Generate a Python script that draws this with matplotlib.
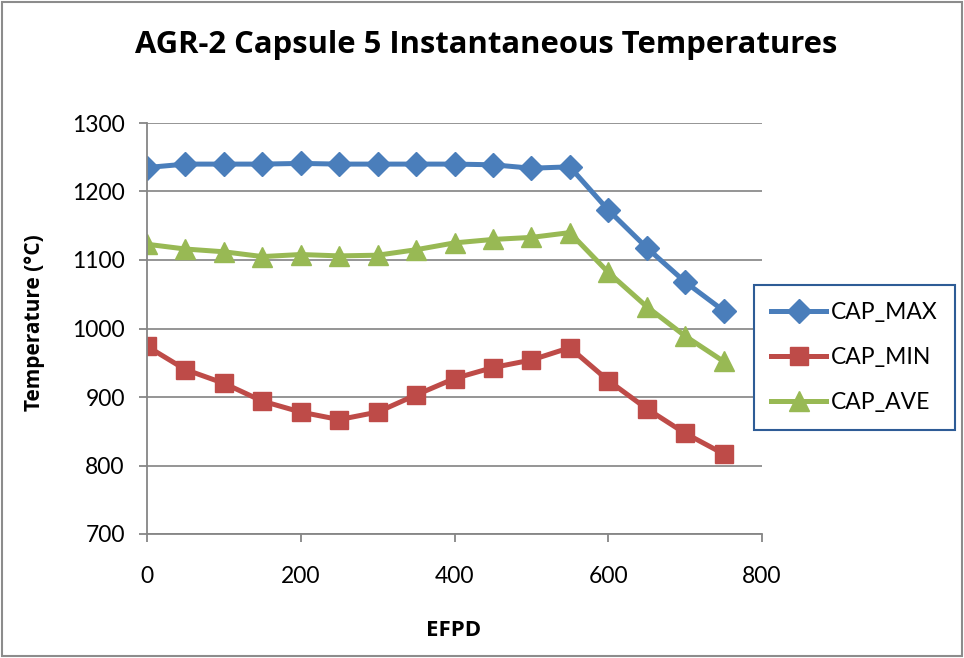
import matplotlib.pyplot as plt
from matplotlib.patches import Rectangle

plt.rcParams['font.family'] = ['Lato', 'DejaVu Sans']

# EFPD points and capsule temperatures (degC)
efpd = [0, 50, 100, 150, 200, 250, 300, 350, 400, 450, 500, 550, 600, 650, 700, 750]
cap_max = [1235, 1240, 1240, 1240, 1241, 1240, 1240, 1240, 1240, 1239, 1234, 1236,
           1173, 1118, 1068, 1026]
cap_min = [974, 940, 920, 894, 878, 867, 878, 903, 927, 943, 954, 972,
           924, 883, 847, 817]
cap_ave = [1123, 1116, 1112, 1105, 1108, 1106, 1107, 1115, 1125, 1130, 1133, 1140,
           1082, 1032, 989, 952]

x_ticks = [0, 200, 400, 600, 800]
y_ticks = [700, 800, 900, 1000, 1100, 1200, 1300]

W, H = 964, 658
fig = plt.figure(figsize=(W / 100, H / 100), dpi=100)
ax = fig.add_axes([147 / W, 1 - 534 / H, (762 - 147) / W, (534 - 123) / H])

ax.plot(efpd, cap_max, color='#4A7EBB', lw=3.6, marker='D', ms=12, label='CAP_MAX')
ax.plot(efpd, cap_min, color='#BE4B48', lw=3.6, marker='s', ms=13, label='CAP_MIN')
ax.plot(efpd, cap_ave, color='#98B954', lw=3.6, marker='^', ms=14, label='CAP_AVE')

ax.set_xlim(0, 800)
ax.set_ylim(700, 1300)
ax.set_xticks(x_ticks)
ax.set_yticks(y_ticks)
ax.grid(axis='y', color='#8C8C8C', lw=1.3)
ax.set_axisbelow(True)
for s in ['top', 'right']:
    ax.spines[s].set_visible(False)
for s in ['left', 'bottom']:
    ax.spines[s].set_color('#868686')
    ax.spines[s].set_linewidth(1.3)
ax.tick_params(axis='both', colors='#868686', length=6, width=1.3, labelcolor='black',
               labelsize=16.5)
ax.tick_params(axis='y', pad=10)
ax.tick_params(axis='x', pad=17)

bold = ['Open Sans', 'DejaVu Sans']
fig.text(486 / W, 1 - 45 / H, 'AGR-2 Capsule 5 Instantaneous Temperatures',
         ha='center', va='center', fontsize=22.3, fontweight='bold', family=bold)
fig.text(35 / W, 1 - 323 / H, 'Temperature (°C)', rotation=90, ha='center', va='center',
         fontsize=15, fontweight='bold', family=bold)
fig.text(454 / W, 1 - 631 / H, 'EFPD', ha='center', va='center',
         fontsize=16, fontweight='bold', family=bold)

leg = ax.legend(loc='upper left', bbox_to_anchor=(754 / W, 1 - 285 / H),
                bbox_transform=fig.transFigure, borderaxespad=0, fontsize=16.5,
                numpoints=1, handlelength=2.4, handletextpad=0.2, labelspacing=1.05,
                borderpad=0.75, fancybox=False, framealpha=1)
leg.get_frame().set_edgecolor('#2E5C96')
leg.get_frame().set_linewidth(1.5)

fig.patches.append(Rectangle((2 / W, 2 / H), 960 / W, 654 / H, transform=fig.transFigure,
                             fill=False, edgecolor='#8C8C8C', lw=1.5))

plt.savefig('out.png', dpi=100)
